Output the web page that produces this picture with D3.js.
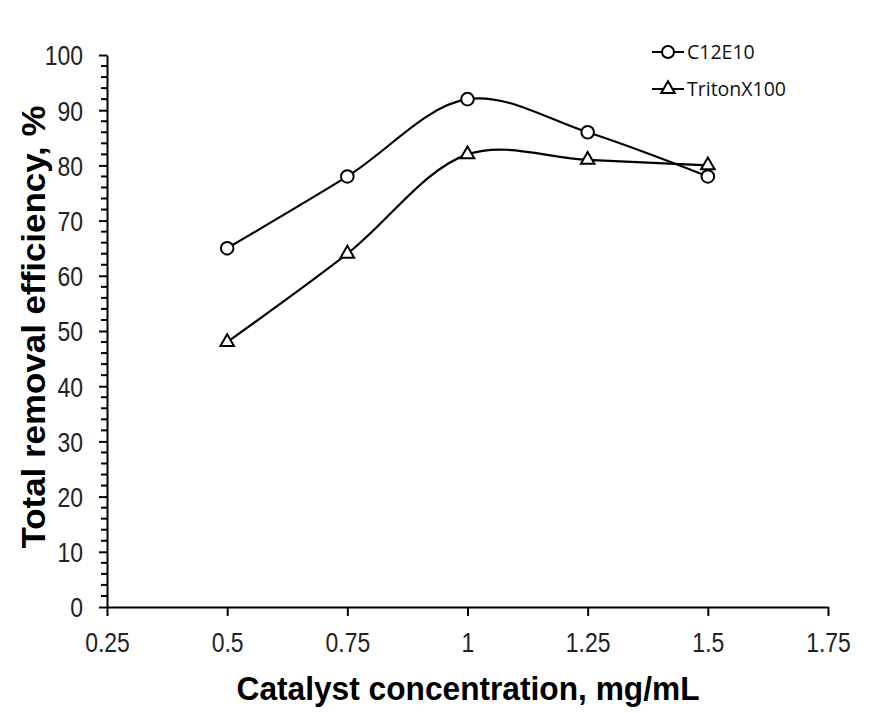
<!DOCTYPE html>
<html>
<head>
<meta charset="utf-8">
<script src="https://d3js.org/d3.v7.min.js"></script>
<style>
  body { margin: 0; background: #fff; }
</style>
</head>
<body>
  <div id="chart"></div>
  <script>
    // values
    var conc = [0.5, 0.75, 1, 1.25, 1.5];
    var c12e10 = [65, 78, 92, 86, 78];
    var triton = [48, 64, 82, 81, 80];
    var xTicks = [0.25, 0.5, 0.75, 1, 1.25, 1.5, 1.75];
    var yTicks = [0, 10, 20, 30, 40, 50, 60, 70, 80, 90, 100];
    var seriesNames = ["C12E10", "TritonX100"];

    var width = 874, height = 713;
    var margin = {top: 55, right: 46, bottom: 106, left: 107};
    var narrow = 0.82; // squeeze tick labels to look like Arial Narrow

    var svg = d3.select("#chart")
      .append("svg")
      .attr("width", width)
      .attr("height", height);

    var x = d3.scaleLinear()
      .domain([0.25, 1.75])
      .range([margin.left, width - margin.right]);

    var y = d3.scaleLinear()
      .domain([0, 100])
      .range([height - margin.bottom, margin.top]);

    // x axis
    var xAxis = svg.append("g")
      .attr("transform", "translate(0," + y(0) + ")")
      .call(d3.axisBottom(x)
        .tickValues(xTicks)
        .tickSize(9)
        .tickSizeOuter(0)
        .tickFormat(function(d) { return String(d); }));

    xAxis.selectAll("text")
      .attr("dy", 0)
      .attr("y", 45)
      .attr("transform", "scale(" + narrow + ",1)")
      .style("font-family", "'Liberation Sans', Arial, sans-serif")
      .style("font-size", "28px")
      .style("fill", "#222");

    // minor y ticks every 2
    var minor = d3.range(0, 101, 2).filter(function(d) { return d % 10 !== 0; });
    svg.append("g")
      .selectAll("line")
      .data(minor)
      .enter()
      .append("line")
      .attr("x1", x(0.25) - 6)
      .attr("x2", x(0.25))
      .attr("y1", function(d) { return y(d); })
      .attr("y2", function(d) { return y(d); })
      .style("stroke", "#000")
      .style("stroke-width", 2);

    var yAxis = svg.append("g")
      .attr("transform", "translate(" + x(0.25) + ",0)")
      .call(d3.axisLeft(y)
        .tickValues(yTicks)
        .tickSize(8)
        .tickSizeOuter(0));

    yAxis.selectAll("text")
      .attr("x", -24 / narrow)
      .attr("dy", "0.35em")
      .attr("transform", "scale(" + narrow + ",1)")
      .style("font-family", "'Liberation Sans', Arial, sans-serif")
      .style("font-size", "28px")
      .style("fill", "#222");

    svg.selectAll(".domain, .tick line")
      .style("stroke", "#000")
      .style("stroke-width", 2);

    // axis titles
    svg.append("text")
      .attr("x", 468)
      .attr("y", 700)
      .attr("text-anchor", "middle")
      .style("font-family", "'Liberation Sans', Arial, sans-serif")
      .style("font-weight", "bold")
      .style("font-size", "34px")
      .attr("textLength", 463)
      .attr("lengthAdjust", "spacingAndGlyphs")
      .text("Catalyst concentration, mg/mL");

    svg.append("text")
      .attr("transform", "translate(45,327) rotate(-90)")
      .attr("text-anchor", "middle")
      .style("font-family", "'Liberation Sans', Arial, sans-serif")
      .style("font-weight", "bold")
      .style("font-size", "33px")
      .attr("textLength", 443)
      .attr("lengthAdjust", "spacingAndGlyphs")
      .text("Total removal efficiency, %");

    // series
    var line = d3.line()
      .x(function(d, i) { return x(conc[i]); })
      .y(function(d) { return y(d); })
      .curve(d3.curveCatmullRom.alpha(0.5));

    svg.append("path")
      .datum(c12e10)
      .attr("d", line)
      .style("fill", "none")
      .style("stroke", "#000")
      .style("stroke-width", 2.2);

    svg.append("path")
      .datum(triton)
      .attr("d", line)
      .style("fill", "none")
      .style("stroke", "#000")
      .style("stroke-width", 2.2);

    var tri = d3.symbol().type(d3.symbolTriangle).size(80);

    svg.append("g")
      .selectAll("circle")
      .data(c12e10)
      .enter()
      .append("circle")
      .attr("cx", function(d, i) { return x(conc[i]); })
      .attr("cy", function(d) { return y(d); })
      .attr("r", 6.3)
      .style("fill", "#fff")
      .style("stroke", "#000")
      .style("stroke-width", 2);

    svg.append("g")
      .selectAll("path")
      .data(triton)
      .enter()
      .append("path")
      .attr("d", tri)
      .attr("transform", function(d, i) { return "translate(" + x(conc[i]) + "," + y(d) + ")"; })
      .style("fill", "#fff")
      .style("stroke", "#000")
      .style("stroke-width", 2);

    // legend
    var legend = svg.append("g");
    var legY = [52, 89];
    seriesNames.forEach(function(name, i) {
      legend.append("line")
        .attr("x1", 652).attr("x2", 684)
        .attr("y1", legY[i]).attr("y2", legY[i])
        .style("stroke", "#000").style("stroke-width", 2);
      if (i === 0) {
        legend.append("circle")
          .attr("cx", 668).attr("cy", legY[i]).attr("r", 6)
          .style("fill", "#fff").style("stroke", "#000").style("stroke-width", 2);
      } else {
        legend.append("path")
          .attr("d", tri)
          .attr("transform", "translate(668," + legY[i] + ")")
          .style("fill", "#fff").style("stroke", "#000").style("stroke-width", 2);
      }
      legend.append("text")
        .attr("x", 687)
        .attr("y", legY[i] + 7)
        .style("font-family", "'Open Sans', sans-serif")
        .style("font-size", "19.5px")
        .style("fill", "#111")
        .text(name);
    });
  </script>
</body>
</html>
